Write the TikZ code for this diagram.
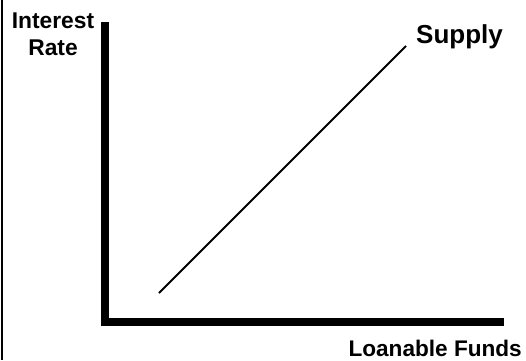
\documentclass[tikz,border=0pt]{standalone}
\usepackage{fontspec}
\setmainfont{Liberation Sans}
\usetikzlibrary{positioning}
\begin{document}
\begin{tikzpicture}[x=1pt,y=-1pt,
  axis/.style={line width=8pt,line join=miter},
  curve/.style={line width=2pt},
  lbl/.style={font=\bfseries\fontsize{22.8}{27}\selectfont,inner sep=0pt,align=center}]
\useasboundingbox (0,0) rectangle (526,360);
\draw[line width=2pt] (2,0) -- (2,360);
\coordinate (top) at (105,22); \coordinate (O) at (105,322); \coordinate (right) at (504,322);
\draw[axis] (top) -- (O) -- (right);
\coordinate (s0) at (159,293); \coordinate (s1) at (406,46);
\draw[curve] (s0) -- (s1);
\node[lbl,anchor=base] (rate) at (53,55) {Interest\\Rate};
\node[lbl,font=\bfseries\fontsize{26}{30}\selectfont,anchor=base west] (supply) at (416,43) {Supply};
\node[lbl,font=\bfseries\fontsize{22.6}{26}\selectfont,anchor=base east] (funds) at (522,356.5) {Loanable Funds};
\end{tikzpicture}
\end{document}
